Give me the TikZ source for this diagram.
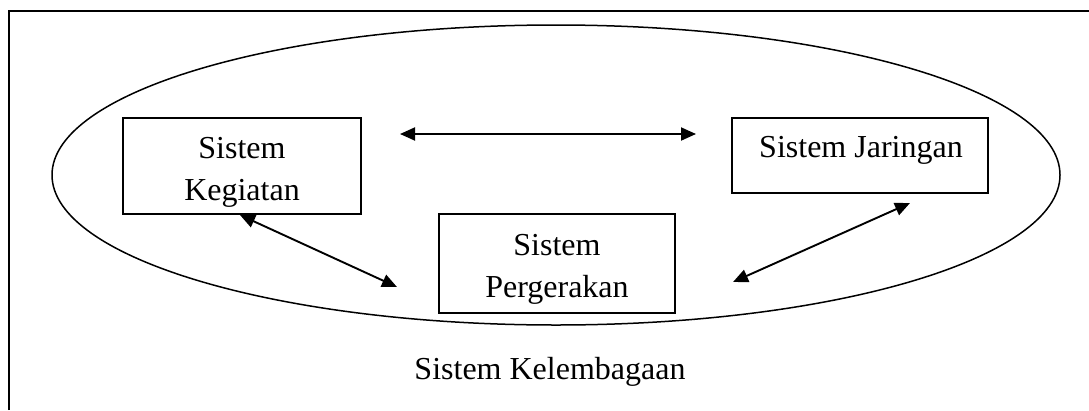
\documentclass[tikz,border=0pt]{standalone}
\usepackage{fontspec}
\setmainfont{Liberation Serif}
\usetikzlibrary{arrows.meta}
\begin{document}
\begin{tikzpicture}[x=1pt,y=-1pt,
  sysbox/.style={draw, line width=1.3pt, rectangle, inner sep=0pt},
  txt/.style={font=\fontsize{32}{42}\selectfont, inner sep=0pt, align=center},
  biarrow/.style={line width=1.9pt, {Triangle[length=15pt,width=13pt]}-{Triangle[length=15pt,width=13pt]}}]
  \useasboundingbox (0,0) rectangle (1089,410);

  % outer frame (top and left edges)
  \draw[line width=2pt] (9,410) -- (9,11) -- (1089,11);

  % institutional system boundary
  \draw[line width=1.5pt] (556,175) ellipse [x radius=504pt, y radius=150pt];

  % subsystem boxes
  \node[sysbox, minimum width=238pt, minimum height=96pt] (keg) at (242,166) {};
  \node[sysbox, minimum width=236pt, minimum height=99pt] (perg) at (557,263.5) {};
  \node[sysbox, minimum width=256pt, minimum height=75pt] (jar) at (860,155.5) {};

  % box labels
  \node[txt] (kegt) at (242,172) {Sistem\\Kegiatan};
  \node[txt] (pergt) at (557,269) {Sistem\\Pergerakan};
  \node[txt] (jart) at (861,150) {Sistem Jaringan};
  \node[txt] (kel) at (550,372) {Sistem Kelembagaan};

  % arrow end points
  \coordinate (h1) at (400,134);
  \coordinate (h2) at (696,134);
  \coordinate (k1) at (240,215);
  \coordinate (k2) at (397,287);
  \coordinate (j1) at (910,203);
  \coordinate (j2) at (733,282);

  % interactions
  \draw[biarrow] (h1) -- (h2);
  \draw[biarrow] (k1) -- (k2);
  \draw[biarrow] (j1) -- (j2);
\end{tikzpicture}
\end{document}
